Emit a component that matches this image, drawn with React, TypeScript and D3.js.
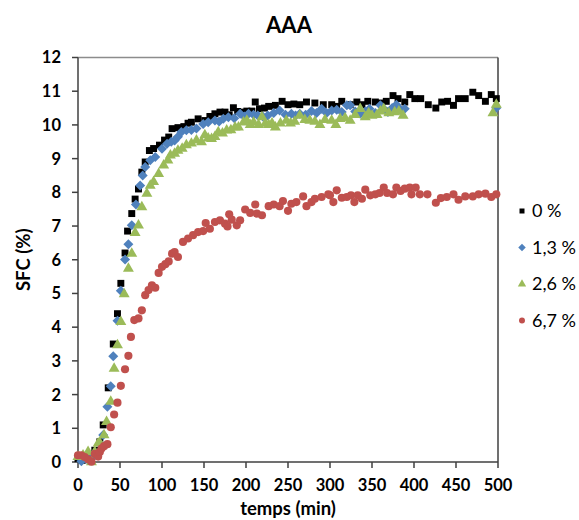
import React from "react";
import * as d3 from "d3";

const title = "AAA";
const xLabel = "temps (min)";
const yLabel = "SFC (%)";
const xTicks = [0, 50, 100, 150, 200, 250, 300, 350, 400, 450, 500];
const yTicks = [0, 1, 2, 3, 4, 5, 6, 7, 8, 9, 10, 11, 12];
const seriesNames = ["0 %", "1,3 %", "2,6 %", "6,7 %"];
const seriesColors = ["#000000", "#4F81BD", "#9BBB59", "#C0504D"];

const t0 = [0,5,10,16,20,26,30,36,42,47,51,56,59,64,68,72,76,80,85,90,97,103,108,112,119,126,131,135,143,151,157,163,169,175,180,185,190,195,201,207,211,216,222,227,235,243,250,257,264,272,282,292,302,308,314,324,332,338,345,354,360,367,375,381,389,395,401,408,417,426,433,440,447,453,461,470,477,485,492,498];
const v0 = [0.1,0.05,0.1,0.15,0.35,0.6,1.1,2.2,3.5,4.4,5.3,6.2,6.85,7.37,7.8,8.1,8.6,8.9,9.24,9.3,9.4,9.55,9.64,9.89,9.92,9.95,10.05,10.08,10.18,10.13,10.25,10.33,10.38,10.38,10.3,10.51,10.4,10.38,10.41,10.41,10.68,10.48,10.5,10.55,10.58,10.7,10.6,10.62,10.6,10.68,10.65,10.6,10.6,10.55,10.7,10.6,10.68,10.6,10.7,10.68,10.65,10.7,10.87,10.78,10.68,10.9,10.78,10.78,10.6,10.5,10.68,10.7,10.58,10.78,10.78,10.97,10.87,10.7,10.9,10.78];

const t1 = [4,10,15,20,26,30,35,39,42,47,51,56,60,64,69,74,77,80,86,92,100,106,111,115,119,123,129,135,141,149,155,163,168,173,179,186,193,198,203,209,214,220,226,233,240,247,254,259,264,271,278,284,290,296,302,308,314,320,324,330,336,342,347,354,360,365,369,374,379,384,389,498];
const v1 = [0.02,0.1,0.15,0.2,0.55,0.8,1.64,2.25,3.14,4.19,5.08,6.01,6.46,7.02,7.64,8.2,8.5,8.75,8.95,9.05,9.29,9.44,9.5,9.54,9.65,9.79,9.84,9.85,9.89,10.03,10.08,10.13,10.1,10.18,10.23,10.2,10.33,10.25,10.33,10.3,10.28,10.25,10.28,10.35,10.43,10.3,10.33,10.28,10.33,10.3,10.41,10.35,10.48,10.35,10.43,10.45,10.38,10.58,10.58,10.4,10.33,10.4,10.48,10.35,10.58,10.45,10.38,10.5,10.6,10.45,10.48,10.5];

const t2 = [0,6,12,16,20,24,26,31,34,39,43,47,51,55,60,64,68,72,76,82,86,90,96,102,107,110,115,119,124,129,135,141,147,151,155,159,163,167,172,177,182,187,191,197,201,205,209,215,219,223,227,231,235,241,248,253,258,264,270,276,282,288,294,302,307,312,318,324,330,336,342,346,350,356,360,364,370,377,382,387,494,498];
const v2 = [0.15,0.2,0.3,0.0,0.3,0.55,0.57,0.8,1.19,1.79,2.77,3.47,4.16,4.98,5.74,6.18,6.8,7.02,7.56,7.96,8.2,8.31,8.55,8.8,8.95,9.1,9.15,9.24,9.3,9.4,9.45,9.54,9.49,9.7,9.6,9.59,9.65,9.79,9.75,9.84,9.85,9.93,9.93,10.08,10.13,10.0,10.08,10.0,10.23,10.04,10.0,10.05,9.93,10.05,10.13,10.05,10.1,10.28,10.15,10.13,10.1,10.0,10.15,10.13,10.0,10.18,10.2,10.13,10.3,10.48,10.23,10.35,10.28,10.3,10.4,10.48,10.35,10.38,10.4,10.28,10.35,10.6];

const t3 = [0,4,8,12,16,20,24,26,28,31,35,39,43,47,51,56,60,63,67,72,76,80,84,88,92,96,100,104,108,112,115,119,125,131,137,143,149,152,157,163,169,175,178,180,183,189,193,199,205,211,213,219,227,233,240,244,250,254,260,268,272,278,282,290,298,300,304,308,314,320,325,329,333,338,342,348,354,359,364,368,375,379,384,389,395,397,402,407,416,426,432,439,447,453,461,470,477,485,492,498];
const v3 = [0.2,0.2,0.15,0.08,0.01,0.24,0.16,0.3,0.4,0.47,0.53,1.03,1.41,1.76,2.26,2.75,3.15,3.71,4.21,4.26,4.5,4.95,5.1,5.24,5.17,5.61,5.79,5.87,5.95,6.18,6.23,6.08,6.53,6.63,6.73,6.82,6.85,7.09,6.92,7.12,7.17,7.07,6.99,7.35,7.19,7.02,7.17,7.49,7.39,7.64,7.37,7.32,7.59,7.64,7.59,7.74,7.45,7.66,7.71,7.88,7.59,7.71,7.81,7.86,7.94,7.91,7.71,8.06,7.84,7.86,7.91,7.71,7.91,7.81,8.08,7.91,7.94,7.98,8.14,7.98,7.94,8.14,8.04,8.11,8.14,7.94,8.14,7.94,7.94,7.69,7.83,7.86,7.94,7.78,7.88,7.88,7.94,7.96,7.86,7.94];

const seriesT = [t0, t1, t2, t3];
const seriesV = [v0, v1, v2, v3];

const W = 579;
const H = 520;
const FONT = "Lato, 'Open Sans', sans-serif";

const x = d3.scaleLinear().domain([0, 500]).range([78, 498]);
const y = d3.scaleLinear().domain([0, 12]).range([462, 57.5]);

const markerPaths = [
  d3.symbol().type(d3.symbolSquare).size(48)(),
  d3.symbol().type(d3.symbolSquare).size(50)(),
  d3.symbol().type(d3.symbolTriangle).size(52)(),
  d3.symbol().type(d3.symbolCircle).size(52)(),
];
const legendPaths = [
  d3.symbol().type(d3.symbolSquare).size(25)(),
  d3.symbol().type(d3.symbolSquare).size(28)(),
  d3.symbol().type(d3.symbolTriangle).size(30)(),
  d3.symbol().type(d3.symbolCircle).size(28)(),
];
const rot = [0, 45, 0, 0];

export default function App() {
  const [x0, x1] = x.range();
  const [y0, y1] = y.range();
  return (
    <svg
      width={W}
      height={H}
      style={{ position: "absolute", left: 0, top: 0, background: "#fff" }}
      fontFamily={FONT}
    >
      <rect x={0} y={0} width={W} height={H} fill="#fff" />
      <text x={289} y={33} textAnchor="middle" fontSize={22} fontWeight="bold" fill="#000">
        {title}
      </text>
      {/* plot border */}
      <line x1={x0} x2={x1} y1={y1} y2={y1} stroke="#8c8c8c" strokeWidth={1.5} />
      <line x1={x1} x2={x1} y1={y1} y2={y0} stroke="#404040" strokeWidth={1.5} />
      {/* axes */}
      <line x1={x0} x2={x0} y1={y1} y2={y0} stroke="#404040" strokeWidth={1.5} />
      <line x1={x0} x2={x1} y1={y0} y2={y0} stroke="#404040" strokeWidth={1.5} />
      {yTicks.map((t) => (
        <g key={"y" + t}>
          <line x1={x0 - 6} x2={x0} y1={y(t)} y2={y(t)} stroke="#404040" strokeWidth={1.5} />
          <text x={61} y={y(t)} dy="0.36em" textAnchor="end" fontSize={16.5} fontWeight="bold" fill="#000">
            {t}
          </text>
        </g>
      ))}
      {xTicks.map((t) => (
        <g key={"x" + t}>
          <line x1={x(t)} x2={x(t)} y1={y0} y2={y0 + 6} stroke="#404040" strokeWidth={1.5} />
          <text x={x(t)} y={491} textAnchor="middle" fontSize={16.5} fontWeight="bold" fill="#000">
            {t}
          </text>
        </g>
      ))}
      <text
        transform={`translate(30,${(y0 + y1) / 2}) rotate(-90)`}
        textAnchor="middle"
        fontSize={18.5}
        fontWeight="bold"
        fill="#000"
      >
        {yLabel}
      </text>
      <text x={288} y={515} textAnchor="middle" fontSize={18.5} fontWeight="bold" fill="#000">
        {xLabel}
      </text>
      {/* data */}
      {seriesT.map((ts, si) => (
        <g key={"s" + si} fill={seriesColors[si]}>
          {ts.map((t, i) => (
            <path
              key={i}
              d={markerPaths[si] as string}
              transform={`translate(${x(t)},${y(seriesV[si][i])}) rotate(${rot[si]})`}
            />
          ))}
        </g>
      ))}
      {/* legend */}
      {seriesNames.map((name, i) => {
        const ly = 211 + i * 36.5;
        return (
          <g key={"l" + i}>
            <path
              d={legendPaths[i] as string}
              fill={seriesColors[i]}
              transform={`translate(522,${ly}) rotate(${rot[i]})`}
            />
            <text x={532} y={ly} dy="0.36em" fontSize={18} fill="#000">
              {name}
            </text>
          </g>
        );
      })}
    </svg>
  );
}
